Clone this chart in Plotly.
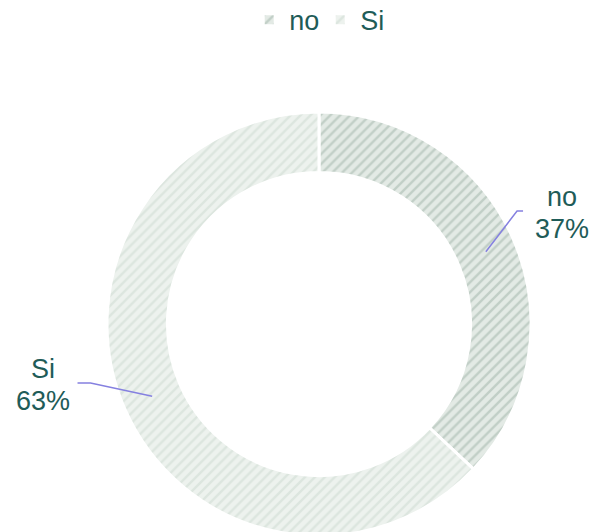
import math
import plotly.graph_objects as go

labels = ["no", "Si"]
values = [37, 63]
bg_colors = ["#e3eae5", "#edf2ee"]
fg_colors = ["#9fb4a8", "#cbd9d0"]
text_color = "#1f5c58"
leader_color = "#8580e0"

W, H = 593, 545
CX, CY, R = 319, 324, 212
HOLE = 0.715
FONT = "Liberation Sans, Arial, sans-serif"
FS = 27

fig = go.Figure(go.Pie(
    labels=labels, values=values, sort=False, direction="clockwise", rotation=0,
    hole=HOLE, textinfo="none", hoverinfo="label+percent",
    marker=dict(colors=bg_colors, line=dict(color="white", width=3),
                pattern=dict(shape="/", fgcolor=fg_colors, bgcolor=bg_colors,
                             size=7, solidity=0.35, fillmode="overlay")),
    domain=dict(x=[(CX - R) / W, (CX + R) / W], y=[(H - CY - R) / H, (H - CY + R) / H]),
))

def px(angle_deg, r):
    a = math.radians(angle_deg)
    return CX + r * math.sin(a), CY - r * math.cos(a)

def paper(x, y):
    return x / W, 1 - y / H

total = sum(values)
cum = 0
shapes, annotations = [], []
# per-label layout: elbow angle offset, elbow radius, horizontal tail, text anchor offsets
layout_cfg = {
    "no": dict(d_ang=-6.3, r_el=228, tail=6, tx=39, ty=-14),
    "Si": dict(d_ang=8.9, r_el=236, tail=-13, tx=-35, ty=-14),
}
for lab, v in zip(labels, values):
    mid = (cum + v / 2) / total * 360
    cum += v
    cfg = layout_cfg[lab]
    x0, y0 = px(mid, R * (1 + HOLE) / 2)
    x1, y1 = px(mid + cfg["d_ang"], cfg["r_el"])
    x2, y2 = x1 + cfg["tail"], y1
    p0, p1, p2 = paper(x0, y0), paper(x1, y1), paper(x2, y2)
    shapes.append(dict(type="path", xref="paper", yref="paper",
                       path=f"M {p0[0]},{p0[1]} L {p1[0]},{p1[1]} L {p2[0]},{p2[1]}",
                       line=dict(color=leader_color, width=1.5)))
    tx, ty = x2 + cfg["tx"], y2 + cfg["ty"]
    for txt, dy in [(lab, 0), (f"{round(v / total * 100)}%", 32)]:
        ax, ay = paper(tx, ty + dy)
        annotations.append(dict(x=ax, y=ay, xref="paper", yref="paper", text=txt,
                                showarrow=False, xanchor="center", yanchor="middle",
                                font=dict(size=FS, color=text_color, family=FONT)))

fig.update_layout(
    width=W, height=H, margin=dict(l=0, r=0, t=0, b=0, autoexpand=False),
    paper_bgcolor="white", plot_bgcolor="white",
    font=dict(family=FONT, size=FS, color=text_color),
    showlegend=True,
    legend=dict(orientation="h", x=0.54, xanchor="center", y=1.008, yanchor="top",
                font=dict(size=FS, color=text_color, family=FONT), itemwidth=30,
                entrywidth=26, entrywidthmode="pixels"),
    shapes=shapes, annotations=annotations,
)
fig.write_html("out.html", config={"displayModeBar": False},
               post_script="document.body.style.margin='0';")
